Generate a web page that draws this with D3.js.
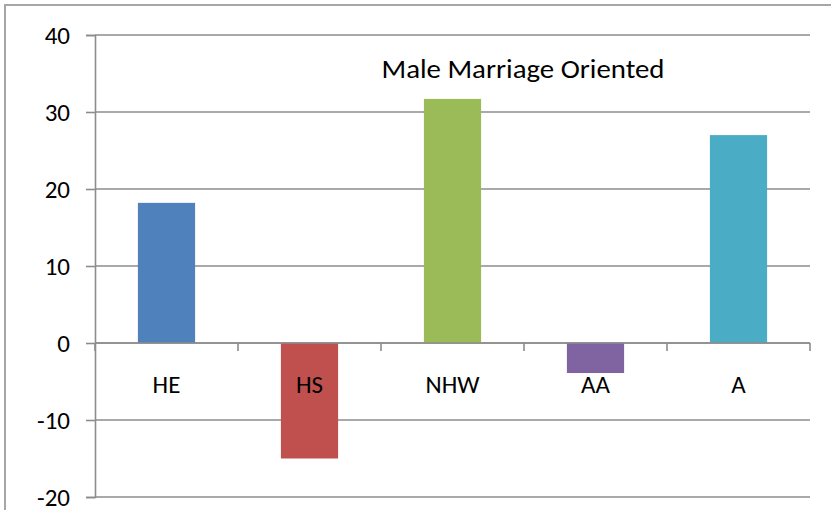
<!DOCTYPE html>
<html>
<head>
<meta charset="utf-8">
<script src="https://cdn.jsdelivr.net/npm/d3@7"></script>
<style>
  body { margin: 0; background: #fff; }
  text { font-family: Calibri, Carlito, "Open Sans", sans-serif; fill: #000; }
</style>
</head>
<body>
<div id="chart-area"></div>
<script>
// data
const categories = ["HE", "HS", "NHW", "AA", "A"];
const values = [18.2, -15, 31.7, -3.9, 27];
const barColors = ["#4F81BD", "#C0504D", "#9BBB59", "#8064A2", "#4BACC6"];
const yTicks = [-20, -10, 0, 10, 20, 30, 40];
const title = "Male Marriage Oriented";

const svgWidth = 831,
	svgHeight = 510;
const margin = {left: 95, right: 21, top: 35, bottom: 12};
const areaWidth = svgWidth - margin.left - margin.right;
const areaHeight = svgHeight - margin.top - margin.bottom - 1;
const fontStack = "Calibri, Carlito, 'Open Sans', sans-serif";

const svg = d3.select("#chart-area")
	.append("svg")
	.attr("width", svgWidth)
	.attr("height", svgHeight);

// outer chart frame
svg.append("rect")
	.attr("x", 5)
	.attr("y", 5)
	.attr("width", svgWidth + 10)
	.attr("height", svgHeight + 10)
	.attr("fill", "none")
	.attr("stroke", "#a6a6a6")
	.attr("stroke-width", 2);

const area = svg.append("g")
	.attr("transform", `translate(${margin.left}, ${margin.top})`);

const x = d3.scaleBand().domain(categories)
	.range([0, areaWidth])
	.paddingInner(0.6)
	.paddingOuter(0.3);
const y = d3.scaleLinear().domain([-20, 40])
	.range([areaHeight, 0]);

// gridlines
area.append("g")
	.selectAll("line")
	.data(yTicks)
	.enter().append("line")
	.attr("x1", 0)
	.attr("x2", areaWidth)
	.attr("y1", d => y(d))
	.attr("y2", d => y(d))
	.attr("stroke", "#8c8c8c")
	.attr("stroke-width", 1.6);

// y axis
const yAxisCall = d3.axisLeft(y)
	.tickValues(yTicks)
	.tickSize(9)
	.tickPadding(16)
	.tickFormat(d => String(d));
const yAxisGroup = area.append("g").call(yAxisCall);
yAxisGroup.select(".domain").attr("stroke", "#8c8c8c").attr("stroke-width", 1.6);
yAxisGroup.selectAll(".tick line").attr("stroke", "#8c8c8c").attr("stroke-width", 1.6);
yAxisGroup.selectAll(".tick text")
	.attr("font-size", "25px")
	.attr("font-family", fontStack);

// bars
area.selectAll("rect.bar")
	.data(values)
	.enter().append("rect")
	.attr("class", "bar")
	.attr("x", (d, i) => x(categories[i]))
	.attr("width", x.bandwidth())
	.attr("y", d => y(Math.max(0, d)))
	.attr("height", d => Math.abs(y(d) - y(0)))
	.attr("fill", (d, i) => barColors[i]);

// zero axis with tick marks between categories
area.append("line")
	.attr("x1", 0)
	.attr("x2", areaWidth)
	.attr("y1", y(0))
	.attr("y2", y(0))
	.attr("stroke", "#8c8c8c")
	.attr("stroke-width", 1.6);

area.append("g")
	.selectAll("line")
	.data(d3.range(categories.length + 1))
	.enter().append("line")
	.attr("x1", i => i * x.step())
	.attr("x2", i => i * x.step())
	.attr("y1", y(0))
	.attr("y2", y(0) + 8)
	.attr("stroke", "#8c8c8c")
	.attr("stroke-width", 1.6);

// category labels
const xAxisCall = d3.axisBottom(x).tickSize(0).tickPadding(0);
const xAxisGroup = area.append("g")
	.attr("transform", `translate(0, ${y(0)})`)
	.call(xAxisCall);
xAxisGroup.select(".domain").remove();
xAxisGroup.selectAll(".tick text")
	.attr("y", 50)
	.attr("dy", 0)
	.attr("font-size", "25px")
	.attr("font-family", fontStack);

// title
svg.append("text")
	.attr("x", 523)
	.attr("y", 78)
	.attr("text-anchor", "middle")
	.attr("font-size", "26px")
	.attr("textLength", 283)
	.attr("lengthAdjust", "spacingAndGlyphs")
	.text(title);
</script>
</body>
</html>
